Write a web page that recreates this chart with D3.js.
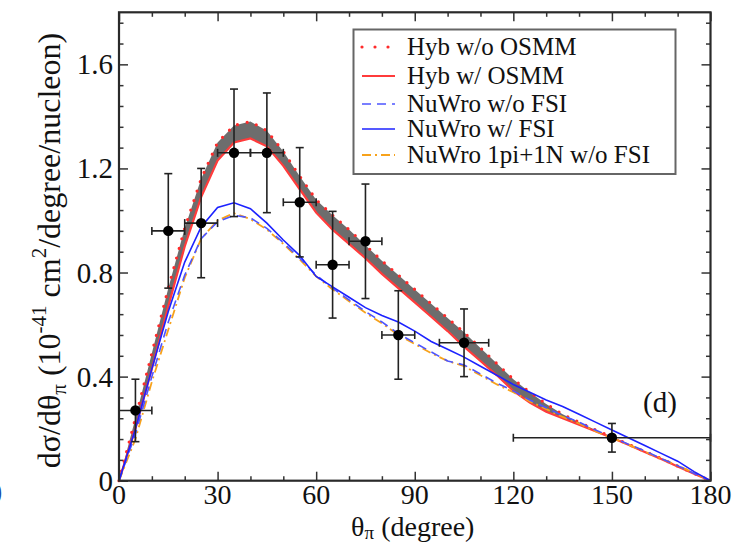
<!DOCTYPE html>
<html>
<head>
<meta charset="utf-8">
<script src="https://cdn.jsdelivr.net/npm/d3@7"></script>
<style>
  body { margin: 0; background: #fff; }
  svg text { font-family: "Liberation Serif", "Times New Roman", serif; }
</style>
</head>
<body>
<div id="graph"></div>
<script>
// pion angle grid (degree) for the model curves
const theta = [0, 5, 10, 15, 20, 25, 30, 35, 40, 45, 50, 55, 60, 65, 70, 75, 80, 85, 90,
  95, 100, 105, 110, 115, 120, 125, 130, 135, 140, 145, 150, 155, 160, 165, 170, 175, 180];

const hybNoOsmm = [0, 0.24, 0.49, 0.74, 0.97, 1.16, 1.30, 1.365, 1.38, 1.345, 1.265, 1.17, 1.08,
  1.02, 0.965, 0.905, 0.845, 0.79, 0.735, 0.68, 0.625, 0.57, 0.51, 0.45, 0.39, 0.34, 0.295,
  0.255, 0.225, 0.195, 0.168, 0.14, 0.112, 0.085, 0.056, 0.028, 0];
const hybOsmm = [0, 0.20, 0.43, 0.67, 0.90, 1.09, 1.23, 1.30, 1.315, 1.285, 1.21, 1.12, 1.03,
  0.965, 0.91, 0.855, 0.795, 0.74, 0.685, 0.63, 0.575, 0.515, 0.46, 0.405, 0.345, 0.30, 0.265,
  0.24, 0.215, 0.19, 0.165, 0.138, 0.11, 0.083, 0.055, 0.027, 0];
const nuwroNoFsi = [0, 0.18, 0.40, 0.61, 0.79, 0.93, 0.995, 1.02, 1.01, 0.97, 0.915, 0.855, 0.79,
  0.74, 0.695, 0.65, 0.61, 0.565, 0.53, 0.495, 0.46, 0.445, 0.41, 0.375, 0.345, 0.31, 0.28,
  0.25, 0.225, 0.195, 0.168, 0.14, 0.115, 0.085, 0.058, 0.028, 0];
const nuwroFsi = [0, 0.20, 0.43, 0.65, 0.84, 0.975, 1.05, 1.068, 1.045, 0.99, 0.925, 0.865, 0.785,
  0.745, 0.705, 0.665, 0.635, 0.61, 0.575, 0.535, 0.505, 0.475, 0.44, 0.405, 0.37, 0.34, 0.31,
  0.285, 0.255, 0.225, 0.195, 0.165, 0.135, 0.105, 0.075, 0.035, 0];
const nuwro1pi1N = [0, 0.16, 0.38, 0.58, 0.78, 0.93, 1.0, 1.028, 1.005, 0.965, 0.91, 0.85, 0.785,
  0.735, 0.69, 0.645, 0.605, 0.56, 0.525, 0.49, 0.46, 0.44, 0.405, 0.37, 0.34, 0.305, 0.275,
  0.245, 0.22, 0.19, 0.165, 0.138, 0.112, 0.085, 0.058, 0.03, 0];

// measured points
const dataTheta = [5, 15, 25, 35, 45, 55, 65, 75, 85, 105, 150];
const dataThetaErr = [5, 5, 5, 5, 5, 5, 5, 5, 5, 7.5, 30];
const dataValue = [0.27, 0.96, 0.99, 1.26, 1.26, 1.07, 0.83, 0.92, 0.56, 0.53, 0.165];
const dataErr = [0.12, 0.22, 0.21, 0.245, 0.23, 0.21, 0.205, 0.22, 0.17, 0.13, 0.055];

const xTicks = [0, 30, 60, 90, 120, 150, 180];
const yTicks = [0, 0.4, 0.8, 1.2, 1.6];
const yTickLabels = ["0", "0.4", "0.8", "1.2", "1.6"];

const legendNames = ["Hyb w/o OSMM", "Hyb w/ OSMM", "NuWro w/o FSI", "NuWro w/ FSI", "NuWro 1pi+1N w/o FSI"];

const width = 733;
const height = 544;
const margin = ({top: 12.3, right: 22.5, bottom: 63.3, left: 119});

const styles = [
  {color: "#ff2a2a", width: 3.2, dash: "0 10", cap: "round"},
  {color: "#ff3b3b", width: 2.2, dash: null, cap: "butt"},
  {color: "#4d55ff", width: 1.6, dash: "9 6", cap: "butt"},
  {color: "#1c22ff", width: 1.6, dash: null, cap: "butt"},
  {color: "#f7a21b", width: 1.8, dash: "9 4 2 4", cap: "butt"}
];

let svg = d3.select("#graph").append("svg")
  .attr("width", width)
  .attr("height", height);

let x = d3.scaleLinear().domain([0, 180]).range([margin.left, width - margin.right]);
let y = d3.scaleLinear().domain([0, 1.8]).range([height - margin.bottom, margin.top]);

// ticks, all pointing inward
const xMinor = d3.range(0, 181, 10).filter(d => d % 30 !== 0);
const yMinor = d3.range(1, 23).map(i => i * 0.08).filter(d => Math.abs(d / 0.4 - Math.round(d / 0.4)) > 1e-6);

function tickAxis(axisFn, scale, values, size, transform) {
  svg.append("g")
    .attr("transform", transform)
    .call(axisFn(scale).tickValues(values).tickSize(-size).tickFormat(""))
    .call(g => g.select(".domain").remove())
    .call(g => g.selectAll("line").attr("stroke", "#333").attr("stroke-width", 1.5));
}
[[xTicks, 9], [xMinor, 4.5]].forEach(([v, s]) => {
  tickAxis(d3.axisBottom, x, v, s, `translate(0,${y(0)})`);
  tickAxis(d3.axisTop, x, v, s, `translate(0,${y(1.8)})`);
});
[[yTicks, 9], [yMinor, 4.5]].forEach(([v, s]) => {
  tickAxis(d3.axisLeft, y, v, s, `translate(${x(0)},0)`);
  tickAxis(d3.axisRight, y, v, s, `translate(${x(180)},0)`);
});

// tick labels
svg.append("g").selectAll("text")
  .data(xTicks)
  .enter().append("text")
  .attr("x", d => x(d))
  .attr("y", y(0) + 23)
  .attr("fill", "#111")
  .style("text-anchor", "middle")
  .style("font-size", "28px")
  .text(d => d);
svg.append("g").selectAll("text")
  .data(yTicks)
  .enter().append("text")
  .attr("x", x(0) - 6)
  .attr("y", d => y(d) + 10)
  .attr("fill", "#111")
  .style("text-anchor", "end")
  .style("font-size", "29px")
  .text((d, i) => yTickLabels[i]);

// model curves
const series = [hybNoOsmm, hybOsmm, nuwroNoFsi, nuwroFsi, nuwro1pi1N];
svg.append("path")
  .datum(theta)
  .attr("fill", "#6d6d6d")
  .attr("d", d3.area()
    .x(d => x(d))
    .y0((d, i) => y(hybOsmm[i]))
    .y1((d, i) => y(hybNoOsmm[i])));

const drawOrder = [0, 1, 4, 2, 3];
drawOrder.forEach(k => {
  const st = styles[k];
  svg.append("path")
    .datum(theta)
    .attr("fill", "none")
    .attr("stroke", st.color)
    .attr("stroke-width", st.width)
    .attr("stroke-linecap", st.cap)
    .attr("stroke-dasharray", st.dash)
    .attr("d", d3.line()
      .x(d => x(d))
      .y((d, i) => y(series[k][i])));
});

// data points with error bars
let pts = svg.append("g").attr("stroke", "#222").attr("stroke-width", 1.6);
dataTheta.forEach((t, i) => {
  const cx = x(t), cy = y(dataValue[i]);
  const yHi = y(dataValue[i] + dataErr[i]), yLo = y(dataValue[i] - dataErr[i]);
  const xLo = x(t - dataThetaErr[i]), xHi = x(t + dataThetaErr[i]);
  pts.append("line").attr("x1", cx).attr("x2", cx).attr("y1", yHi).attr("y2", yLo);
  pts.append("line").attr("x1", xLo).attr("x2", xHi).attr("y1", cy).attr("y2", cy);
  [yHi, yLo].forEach(v => pts.append("line").attr("x1", cx - 4).attr("x2", cx + 4).attr("y1", v).attr("y2", v));
  [xLo, xHi].forEach(v => pts.append("line").attr("x1", v).attr("x2", v).attr("y1", cy - 4).attr("y2", cy + 4));
  pts.append("circle").attr("cx", cx).attr("cy", cy).attr("r", 5.2).attr("fill", "#000").attr("stroke", "none");
});

// frame
svg.append("rect")
  .attr("x", x(0)).attr("y", y(1.8))
  .attr("width", x(180) - x(0)).attr("height", y(0) - y(1.8))
  .attr("fill", "none").attr("stroke", "#2a2a2a").attr("stroke-width", 2.2);

// legend
const legendRows = [47, 76, 104, 129, 155];
let legend = svg.append("g");
legend.append("rect")
  .attr("x", 353.5).attr("y", 29.5).attr("width", 322).attr("height", 144.5)
  .attr("fill", "#fff").attr("stroke", "#666").attr("stroke-width", 2);
legendNames.forEach((name, k) => {
  const st = styles[k];
  legend.append("line")
    .attr("x1", 362).attr("x2", 395)
    .attr("y1", legendRows[k]).attr("y2", legendRows[k])
    .attr("stroke", st.color)
    .attr("stroke-width", st.width)
    .attr("stroke-linecap", st.cap)
    .attr("stroke-dasharray", k === 0 ? "0 13" : st.dash);
  legend.append("text")
    .attr("x", 407).attr("y", legendRows[k] + 8)
    .attr("fill", "#111")
    .style("font-size", "25px")
    .text(name);
});

svg.append("text")
  .attr("x", 643).attr("y", 412)
  .attr("fill", "#111")
  .style("font-size", "29px")
  .text("(d)");

// axis titles
let xt = svg.append("text")
  .attr("x", (x(0) + x(180)) / 2 - 2).attr("y", 536)
  .attr("fill", "#111")
  .style("text-anchor", "middle")
  .style("font-size", "28px");
xt.append("tspan").text("θ");
xt.append("tspan").attr("dy", 3).style("font-size", "19px").text("π");
xt.append("tspan").attr("dy", -3).text(" (degree)");

let yt = svg.append("text")
  .attr("transform", `translate(60,${(y(0) + y(1.8)) / 2 + 4}) rotate(-90)`)
  .attr("fill", "#111")
  .style("text-anchor", "middle")
  .style("font-size", "32px");
yt.append("tspan").text("dσ/dθ");
yt.append("tspan").attr("dy", 6).style("font-size", "21px").text("π");
yt.append("tspan").attr("dy", -6).text(" (10");
yt.append("tspan").attr("dy", -14).style("font-size", "21px").text("-41");
yt.append("tspan").attr("dy", 14).text(" cm");
yt.append("tspan").attr("dy", -14).style("font-size", "21px").text("2");
yt.append("tspan").attr("dy", 14).text("/degree/nucleon)");

// fragment of the neighbouring panel's label
svg.append("text")
  .attr("x", -7).attr("y", 500)
  .attr("fill", "#1f4fa8")
  .style("font-size", "28px")
  .text(")");
</script>
</body>
</html>
